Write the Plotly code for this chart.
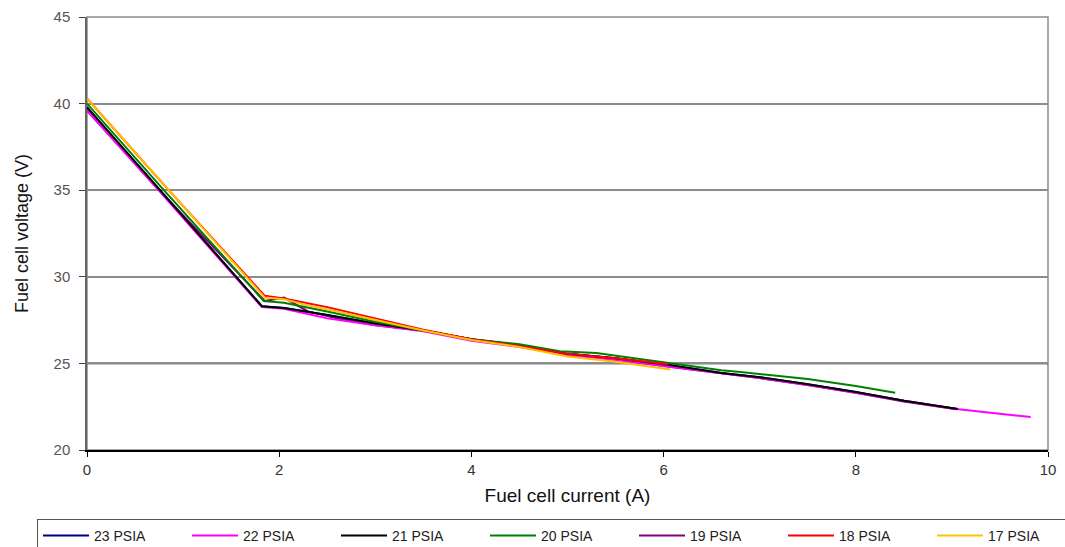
import plotly.graph_objects as go

# ---- data ----
series_names = ["23 PSIA", "22 PSIA", "21 PSIA", "20 PSIA", "19 PSIA", "18 PSIA", "17 PSIA"]
series_colors = ["#000080", "#FF00FF", "#000000", "#008000", "#800080", "#FF0000", "#FFC000"]

x_23 = [0, 0.76, 1.82, 2.05, 2.5, 3.0, 3.5, 4.0, 4.5, 5.0, 5.5, 6.07, 6.6, 7.0, 7.5, 8.0, 8.5, 9.06]
v_23 = [39.75, 35.0, 28.3, 28.2, 27.8, 27.3, 26.9, 26.4, 26.05, 25.55, 25.3, 24.9, 24.45, 24.2, 23.8, 23.35, 22.85, 22.37]

x_22 = [0, 0.76, 1.82, 2.05, 2.5, 3.0, 3.5, 4.0, 4.5, 5.0, 5.5, 6.0, 6.5, 7.0, 7.5, 8.0, 8.5, 9.0, 9.4, 9.82]
v_22 = [39.6, 34.9, 28.25, 28.15, 27.6, 27.2, 26.85, 26.3, 25.95, 25.5, 25.2, 24.85, 24.5, 24.15, 23.75, 23.3, 22.85, 22.4, 22.15, 21.9]

x_21 = [0, 0.76, 1.82, 2.05, 2.5, 3.0, 3.5, 4.0, 4.5, 5.0, 5.5, 6.07, 6.6, 7.0, 7.5, 8.0, 8.5, 9.06]
v_21 = [39.8, 35.0, 28.3, 28.2, 27.8, 27.3, 26.9, 26.4, 26.05, 25.55, 25.3, 24.9, 24.45, 24.2, 23.8, 23.35, 22.85, 22.37]

x_20 = [0, 0.8, 1.84, 2.05, 2.5, 3.0, 3.5, 4.0, 4.5, 4.92, 5.3, 5.7, 6.07, 6.6, 6.8, 7.5, 8.0, 8.41]
v_20 = [40.0, 35.0, 28.6, 28.5, 28.0, 27.4, 26.9, 26.4, 26.1, 25.7, 25.6, 25.3, 25.0, 24.6, 24.5, 24.1, 23.7, 23.3]

x_19 = [0, 0.76, 1.85, 2.05, 2.3, 2.6, 3.0, 3.5, 4.0, 4.5, 5.0, 5.5, 6.0, 6.5, 7.0, 7.5, 8.0, 8.5, 9.05]
v_19 = [39.6, 34.95, 28.6, 28.8, 28.0, 27.6, 27.2, 26.9, 26.35, 26.0, 25.5, 25.25, 24.85, 24.5, 24.15, 23.75, 23.3, 22.8, 22.35]

x_18 = [0, 0.85, 1.85, 2.05, 2.5, 3.0, 3.5, 4.0, 4.5, 5.0, 5.5, 6.05]
v_18 = [40.3, 35.0, 28.9, 28.75, 28.25, 27.6, 26.95, 26.4, 26.0, 25.55, 25.3, 24.95]

x_17 = [0, 0.85, 1.85, 2.05, 2.3, 2.6, 3.0, 3.5, 4.0, 4.5, 5.0, 5.5, 6.07]
v_17 = [40.3, 35.0, 28.8, 28.7, 28.35, 28.0, 27.5, 26.9, 26.35, 25.95, 25.4, 25.1, 24.65]

x_ticks = [0, 2, 4, 6, 8, 10]
y_ticks = [20, 25, 30, 35, 40, 45]
dark_grid = [25, 35]

xs = [x_23, x_22, x_21, x_20, x_19, x_18, x_17]
vs = [v_23, v_22, v_21, v_20, v_19, v_18, v_17]
draw_order = [0, 4, 1, 2, 3, 5, 6]  # purple below black so the tail shows black as in the reference

fig = go.Figure()
for i in range(len(series_names)):
    fig.add_trace(go.Scatter(x=xs[i], y=vs[i], mode="lines", name=series_names[i],
                             line=dict(color=series_colors[i], width=2),
                             legendrank=i + 1))
fig.data = tuple(fig.data[i] for i in draw_order)

# plot frame (top/right grey border)
fig.add_shape(type="rect", xref="paper", yref="paper", x0=0, x1=1, y0=0, y1=1,
              line=dict(color="#8c8c8c", width=1.5), layer="below")
for g in dark_grid:
    fig.add_shape(type="line", xref="paper", yref="y", x0=0, x1=1, y0=g, y1=g,
                  line=dict(color="#000000", width=1.5), layer="below")

W, H = 1065, 547
ML, MR, MT, MB = 87, 17, 17, 97
PW, PH = W - ML - MR, H - MT - MB

font = "Liberation Sans, Arial, sans-serif"
fig.update_layout(
    width=W, height=H,
    margin=dict(l=ML, r=MR, t=MT, b=MB, autoexpand=False),
    paper_bgcolor="white", plot_bgcolor="white",
    font=dict(family=font, color="#222222"),
    showlegend=True,
    legend=dict(orientation="h", xref="paper", yref="paper",
                x=(37 - ML) / PW, xanchor="left", y=-(519 - (MT + PH)) / PH, yanchor="top",
                bordercolor="#555555", borderwidth=1, font=dict(size=14, color="#222222"),
                itemwidth=46, entrywidth=88, entrywidthmode="pixels"),
    xaxis=dict(range=[0, 10], tickvals=x_ticks, showgrid=False, zeroline=False,
               showline=True, linecolor="#000000", linewidth=1.5,
               ticks="outside", ticklen=5, tickcolor="#000000",
               tickfont=dict(size=15, color="#333333"),
               title=dict(text="Fuel cell current (A)", font=dict(size=19, color="#111111"), standoff=12)),
    yaxis=dict(range=[20, 45], tickvals=y_ticks, showgrid=True, gridcolor="#8c8c8c", gridwidth=1.5,
               zeroline=False, showline=True, linecolor="#666666", linewidth=1.5,
               ticks="outside", ticklen=6, tickcolor="#444444", ticklabelstandoff=6,
               tickfont=dict(size=15, color="#555555"),
               title=dict(text="Fuel cell voltage (V)", font=dict(size=18, color="#111111"), standoff=20)),
)

fig.write_html("out.html")
